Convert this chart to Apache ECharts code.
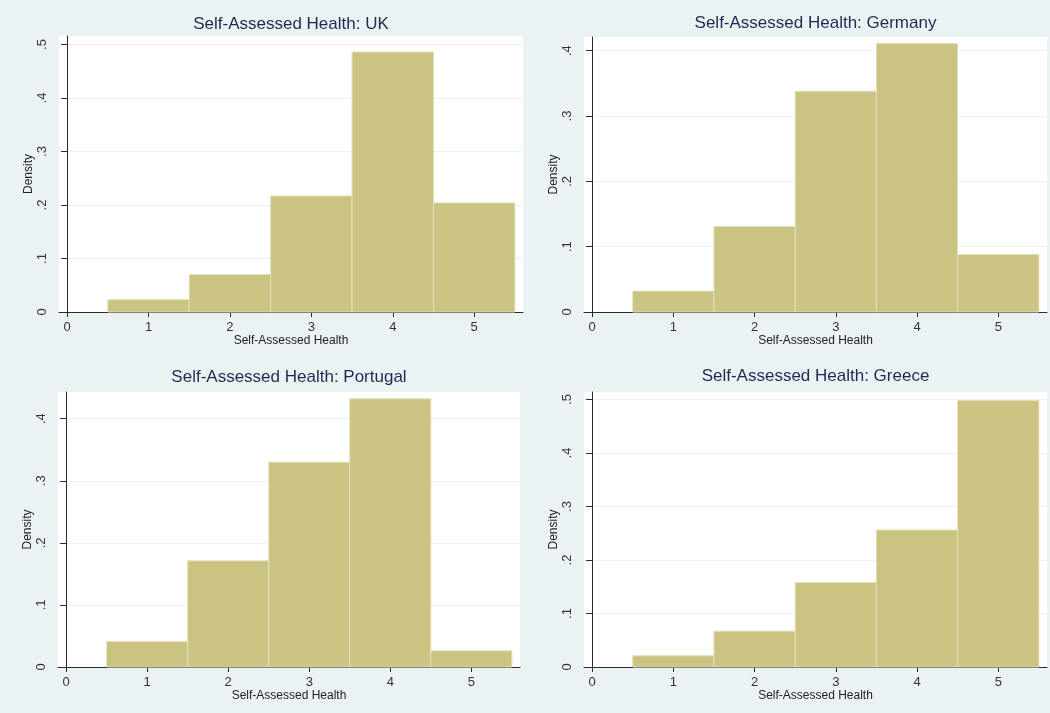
<!DOCTYPE html>
<html>
<head>
<meta charset="utf-8">
<title>Self-Assessed Health</title>
<script src="https://cdn.jsdelivr.net/npm/echarts@6/dist/echarts.min.js"></script>
<style>
  html, body { margin: 0; padding: 0; background: #eaf2f3; }
  #chart { width: 1050px; height: 713px; }
</style>
</head>
<body>
<div id="chart"></div>
<script>
// Health rating categories (bin centres) and bin width
const categories = [1, 2, 3, 4, 5];
const BIN_WIDTH = 1;

// Density of each rating, by country
const ukDensity       = [0.023, 0.070, 0.217, 0.486, 0.204];
const germanyDensity  = [0.032, 0.131, 0.338, 0.411, 0.088];
const portugalDensity = [0.041, 0.171, 0.330, 0.432, 0.026];
const greeceDensity   = [0.021, 0.067, 0.158, 0.256, 0.498];

// Tick labels
const xTicks = [0, 1, 2, 3, 4, 5];
const yTicksHigh = [0, 0.1, 0.2, 0.3, 0.4, 0.5];
const yTicksLow  = [0, 0.1, 0.2, 0.3, 0.4];

const panels = [
  { title: 'Self-Assessed Health: UK',       values: ukDensity,       yMax: 0.516, yTicks: yTicksHigh },
  { title: 'Self-Assessed Health: Germany',  values: germanyDensity,  yMax: 0.421, yTicks: yTicksLow },
  { title: 'Self-Assessed Health: Portugal', values: portugalDensity, yMax: 0.443, yTicks: yTicksLow },
  { title: 'Self-Assessed Health: Greece',   values: greeceDensity,   yMax: 0.514, yTicks: yTicksHigh }
];

// Plot-region boxes for the 2x2 layout
const boxes = [
  { left: 59,  top: 36,  width: 464, height: 276, titleTop: 16 },
  { left: 584, top: 37,  width: 463, height: 275, titleTop: 15 },
  { left: 58,  top: 392, width: 462, height: 275, titleTop: 369 },
  { left: 584, top: 392, width: 463, height: 275, titleTop: 368 }
];

const FONT = '"Liberation Sans", Arial, Helvetica, sans-serif';
const AXIS_COLOR = '#2a2a2a';
const TEXT_COLOR = '#333333';
const BAR_FILL = '#cbc382';
const BAR_EDGE = '#e2dfba';

function fmtDensity(v) {
  if (Math.abs(v) < 1e-9) return '0';
  return v.toFixed(1).replace(/^0/, '');
}

const option = {
  backgroundColor: '#eaf2f3',
  animation: false,
  title: panels.map((p, i) => ({
    text: p.title,
    left: boxes[i].left + boxes[i].width / 2,
    top: boxes[i].titleTop,
    textAlign: 'center',
    padding: 0,
    textStyle: { fontFamily: FONT, fontSize: 17, fontWeight: 'normal', color: '#1d2b50' }
  })),
  grid: boxes.map(b => ({
    left: b.left, top: b.top, width: b.width, height: b.height,
    show: true, backgroundColor: '#ffffff', borderWidth: 0,
    containLabel: false, outerBoundsMode: 'none'
  })),
  xAxis: panels.map((p, i) => ({
    type: 'value',
    gridIndex: i,
    min: -0.1,
    max: 5.6,
    name: 'Self-Assessed Health',
    nameLocation: 'middle',
    nameGap: 19,
    nameTextStyle: { fontFamily: FONT, fontSize: 12, color: '#222' },
    axisLine: { show: true, onZero: false, lineStyle: { color: AXIS_COLOR, width: 1 } },
    axisTick: { show: true, length: 5, customValues: xTicks, lineStyle: { color: AXIS_COLOR } },
    axisLabel: {
      customValues: xTicks,
      margin: 9,
      fontFamily: FONT, fontSize: 13, color: TEXT_COLOR,
      formatter: v => String(v)
    },
    splitLine: { show: false }
  })),
  yAxis: panels.map((p, i) => ({
    type: 'value',
    gridIndex: i,
    min: 0,
    max: p.yMax,
    interval: 0.1,
    name: 'Density',
    nameLocation: 'middle',
    nameGap: 24,
    nameTextStyle: { fontFamily: FONT, fontSize: 12, color: '#222' },
    axisLine: { show: true, lineStyle: { color: AXIS_COLOR, width: 1 } },
    axisTick: { show: true, length: 6, customValues: p.yTicks, lineStyle: { color: AXIS_COLOR } },
    axisLabel: {
      customValues: p.yTicks,
      rotate: 90,
      margin: 10,
      fontFamily: FONT, fontSize: 13, color: TEXT_COLOR,
      formatter: fmtDensity
    },
    splitLine: { show: true, lineStyle: { color: '#eaf2f3', width: 1 } }
  })),
  series: panels.map((p, i) => ({
    type: 'custom',
    xAxisIndex: i,
    yAxisIndex: i,
    data: categories.map((c, k) => [c, p.values[k]]),
    renderItem: (params, api) => {
      const x = api.value(0);
      const v = api.value(1);
      const topLeft = api.coord([x - BIN_WIDTH / 2, v]);
      const bottomRight = api.coord([x + BIN_WIDTH / 2, 0]);
      return {
        type: 'rect',
        shape: {
          x: topLeft[0],
          y: topLeft[1],
          width: bottomRight[0] - topLeft[0],
          height: bottomRight[1] - topLeft[1]
        },
        style: { fill: BAR_FILL, stroke: BAR_EDGE, lineWidth: 1 }
      };
    }
  }))
};

const chart = echarts.init(document.getElementById('chart'), null, { renderer: 'canvas' });
chart.setOption(option);
</script>
</body>
</html>
